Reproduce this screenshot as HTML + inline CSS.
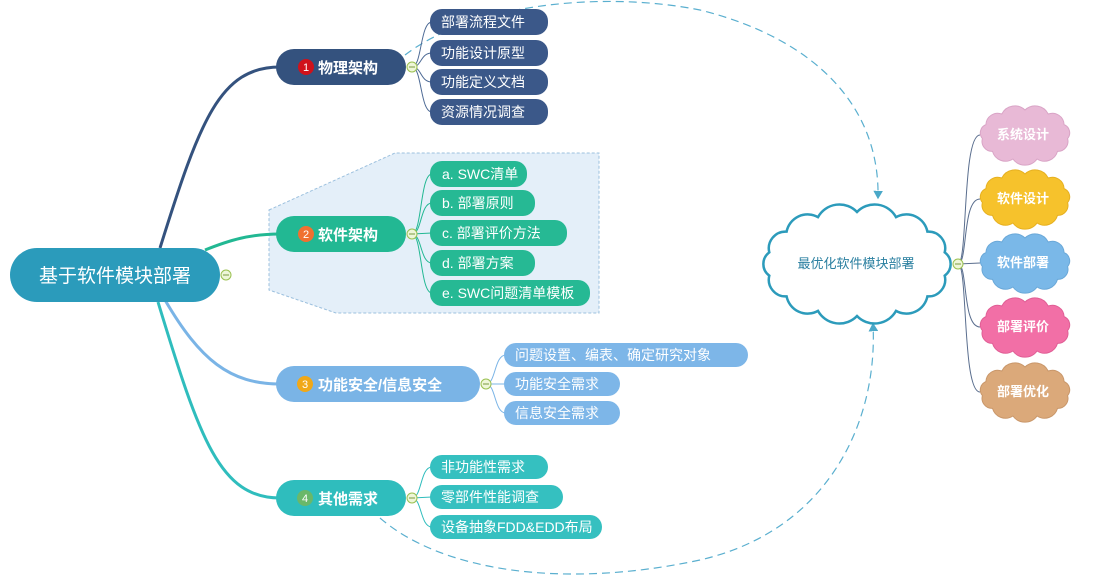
<!DOCTYPE html>
<html><head><meta charset="utf-8"><style>
html,body{margin:0;padding:0;background:#fff;width:1094px;height:584px;overflow:hidden}
text{font-family:"Liberation Sans","Noto Sans CJK SC",sans-serif}
</style></head><body>
<svg id="s" width="1094" height="584" viewBox="0 0 1094 584" xmlns="http://www.w3.org/2000/svg">
<defs>
<marker id="ar" markerWidth="8" markerHeight="8" refX="6" refY="4" orient="auto"><path d="M0,0 L7,4 L0,8 Z" fill="#4aa8c8"/></marker>
</defs>
<path d="M269,210 L395,153 L599,153 L599,313 L336,313 L269,290 Z" fill="#e4eff9" stroke="#9cc0de" stroke-width="1" stroke-dasharray="3,2"/>
<path d="M405,55 C470,5 600,-10 700,10 C820,40 880,110 878,198" fill="none" stroke="#5aafcf" stroke-width="1.2" stroke-dasharray="8,5" marker-end="url(#ar)"/>
<path d="M380,518 C440,570 560,590 700,560 C830,530 878,420 873,324" fill="none" stroke="#5aafcf" stroke-width="1.2" stroke-dasharray="8,5" marker-end="url(#ar)"/>
<path d="M160,248 C200,120 220,67 280,67" fill="none" stroke="#34527e" stroke-width="3"/>
<path d="M205,250 C230,240 250,234 280,234" fill="none" stroke="#22b893" stroke-width="3"/>
<path d="M165,300 C200,360 230,384 280,384" fill="none" stroke="#7ab4e6" stroke-width="3"/>
<path d="M158,302 C200,440 220,498 280,498" fill="none" stroke="#2fbdbd" stroke-width="3"/>
<g fill="none" stroke-width="1">
<g stroke="#4d6a95"><path d="M412,67 C422,67 420,22 432,22"/><path d="M412,67 C422,67 420,53 432,53"/><path d="M412,67 C422,67 420,82 432,82"/><path d="M412,67 C422,67 420,112 432,112"/></g>
<g stroke="#22b893"><path d="M412,234 C422,234 420,174 432,174"/><path d="M412,234 C422,234 420,203 432,203"/><path d="M412,234 L432,233"/><path d="M412,234 C422,234 420,263 432,263"/><path d="M412,234 C422,234 420,293 432,293"/></g>
<g stroke="#7ab4e6"><path d="M486,384 C496,384 494,355 506,355"/><path d="M486,384 L506,384"/><path d="M486,384 C496,384 494,413 506,413"/></g>
<g stroke="#2fbdbd"><path d="M412,498 C422,498 420,467 432,467"/><path d="M412,498 L432,497"/><path d="M412,498 C422,498 420,527 432,527"/></g>
<g stroke="#5a6e8e"><path d="M958,264 C968,264 962,135 980,135"/><path d="M958,264 C968,264 962,199 980,199"/><path d="M958,264 L980,263"/><path d="M958,264 C968,264 962,327 980,327"/><path d="M958,264 C968,264 962,392 980,392"/></g>
</g>
<rect x="10" y="248" width="210" height="54" rx="27" fill="#2b9bbb"/>
<text x="115" y="282" font-size="19" fill="#fff" text-anchor="middle">基于软件模块部署</text>
<rect x="276" y="49" width="130" height="36" rx="18" fill="#34527e"/>
<circle cx="306" cy="67" r="8" fill="#d0121b"/><text x="306" y="71" font-size="11" fill="#fff" text-anchor="middle">1</text>
<text x="318" y="73" font-size="15" font-weight="bold" fill="#fff">物理架构</text>
<rect x="276" y="216" width="130" height="36" rx="18" fill="#22b893"/>
<circle cx="306" cy="234" r="8" fill="#f07030"/><text x="306" y="238" font-size="11" fill="#fff" text-anchor="middle">2</text>
<text x="318" y="240" font-size="15" font-weight="bold" fill="#fff">软件架构</text>
<rect x="276" y="366" width="204" height="36" rx="18" fill="#7ab4e6"/>
<circle cx="305" cy="384" r="8" fill="#f0a818"/><text x="305" y="388" font-size="11" fill="#fff" text-anchor="middle">3</text>
<text x="318" y="390" font-size="15" font-weight="bold" fill="#fff">功能安全/信息安全</text>
<rect x="276" y="480" width="130" height="36" rx="18" fill="#2fbdbd"/>
<circle cx="305" cy="498" r="8" fill="#6ab86a"/><text x="305" y="502" font-size="11" fill="#fff" text-anchor="middle">4</text>
<text x="318" y="504" font-size="15" font-weight="bold" fill="#fff">其他需求</text>
<g font-size="14" fill="#fff">
<rect x="430" y="9" width="118" height="26" rx="12" fill="#3b5889"/><text x="441" y="27">部署流程文件</text>
<rect x="430" y="40" width="118" height="26" rx="12" fill="#3b5889"/><text x="441" y="58">功能设计原型</text>
<rect x="430" y="69" width="118" height="26" rx="12" fill="#3b5889"/><text x="441" y="87">功能定义文档</text>
<rect x="430" y="99" width="118" height="26" rx="12" fill="#3b5889"/><text x="441" y="117">资源情况调查</text>
<rect x="430" y="161" width="97" height="26" rx="12" fill="#26b994"/><text x="442" y="179">a. SWC清单</text>
<rect x="430" y="190" width="105" height="26" rx="12" fill="#26b994"/><text x="442" y="208">b. 部署原则</text>
<rect x="430" y="220" width="137" height="26" rx="12" fill="#26b994"/><text x="442" y="238">c. 部署评价方法</text>
<rect x="430" y="250" width="105" height="26" rx="12" fill="#26b994"/><text x="442" y="268">d. 部署方案</text>
<rect x="430" y="280" width="160" height="26" rx="12" fill="#26b994"/><text x="442" y="298">e. SWC问题清单模板</text>
<rect x="504" y="343" width="244" height="24" rx="12" fill="#7db6e8"/><text x="515" y="360">问题设置、编表、确定研究对象</text>
<rect x="504" y="372" width="116" height="24" rx="12" fill="#7db6e8"/><text x="515" y="389">功能安全需求</text>
<rect x="504" y="401" width="116" height="24" rx="12" fill="#7db6e8"/><text x="515" y="418">信息安全需求</text>
<rect x="430" y="455" width="118" height="24" rx="12" fill="#35c0c0"/><text x="441" y="472">非功能性需求</text>
<rect x="430" y="485" width="133" height="24" rx="12" fill="#35c0c0"/><text x="441" y="502">零部件性能调查</text>
<rect x="430" y="515" width="172" height="24" rx="12" fill="#35c0c0"/><text x="441" y="532">设备抽象FDD&amp;EDD布局</text>
</g>
<g id="clouds"></g>
<g font-size="13" fill="#fff" font-weight="bold" text-anchor="middle">
<text x="1023" y="139">系统设计</text>
<text x="1023" y="203">软件设计</text>
<text x="1023" y="267">软件部署</text>
<text x="1023" y="331">部署评价</text>
<text x="1023" y="396">部署优化</text>
</g>
<text x="856" y="268" font-size="13" fill="#2a7fa0" text-anchor="middle">最优化软件模块部署</text>
<g fill="#eef6d8" stroke="#9ac050" stroke-width="1">
<circle cx="226" cy="275" r="5"/><circle cx="412" cy="67" r="5"/><circle cx="412" cy="234" r="5"/><circle cx="486" cy="384" r="5"/><circle cx="412" cy="498" r="5"/><circle cx="958" cy="264" r="5"/>
</g>
<g stroke="#7a9a40" stroke-width="1"><path d="M223,275h6M409,67h6M409,234h6M483,384h6M409,498h6M955,264h6"/></g>
</svg>
<script>
function cloud(cx,cy,rx,ry,n,fill,stroke,sw){
  var pts=[];for(var i=0;i<n;i++){var a=2*Math.PI*i/n-Math.PI/2;pts.push([cx+rx*Math.cos(a),cy+ry*Math.sin(a)]);}
  var d="M"+pts[0][0].toFixed(1)+","+pts[0][1].toFixed(1);
  for(var i=1;i<=n;i++){var p=pts[i%n],q=pts[i-1];var dist=Math.hypot(p[0]-q[0],p[1]-q[1]);var r=dist*0.62;
    d+=" A"+r.toFixed(1)+","+r.toFixed(1)+" 0 0 1 "+p[0].toFixed(1)+","+p[1].toFixed(1);}
  var e=document.createElementNS("http://www.w3.org/2000/svg","path");
  e.setAttribute("d",d+"Z");e.setAttribute("fill",fill);e.setAttribute("stroke",stroke);e.setAttribute("stroke-width",sw);
  document.getElementById("clouds").appendChild(e);
}
cloud(857,264,90,52,14,"#fff","#2c9bbb",2.5);
var cs=[[135,"#e8b9d6","#d9a4c6"],[199,"#f6c22c","#e6b020"],[263,"#7ab8e8","#6aa8d8"],[327,"#f26fa6","#e05e95"],[392,"#dba97a","#c9976a"]];
cs.forEach(function(c){cloud(1025,c[0],43,25,11,c[1],c[2],1);});
</script>
</body></html>
